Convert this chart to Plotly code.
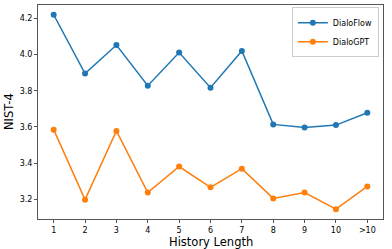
import plotly.graph_objects as go

categories = ["1", "2", "3", "4", "5", "6", "7", "8", "9", "10", ">10"]
dialoflow = [4.22, 3.895, 4.053, 3.828, 4.011, 3.817, 4.02, 3.614, 3.597, 3.61, 3.678]
dialogpt = [3.585, 3.198, 3.578, 3.237, 3.381, 3.266, 3.369, 3.205, 3.237, 3.145, 3.271]
y_ticks = [3.2, 3.4, 3.6, 3.8, 4.0, 4.2]

FONT = "DejaVu Sans"
fig = go.Figure()
fig.add_trace(go.Scatter(x=categories, y=dialoflow, name="DialoFlow", mode="lines+markers",
                         line=dict(color="#1f77b4", width=1.5), marker=dict(size=6, color="#1f77b4")))
fig.add_trace(go.Scatter(x=categories, y=dialogpt, name="DialoGPT", mode="lines+markers",
                         line=dict(color="#ff7f0e", width=1.5), marker=dict(size=6, color="#ff7f0e")))

fig.update_layout(
    width=392, height=249,
    margin=dict(l=38, r=9, t=5, b=30, autoexpand=False),
    paper_bgcolor="white", plot_bgcolor="white",
    font=dict(family=FONT, size=8, color="black"),
    showlegend=True,
    legend=dict(x=0.988, y=0.99, xanchor="right", yanchor="top",
                bordercolor="#cccccc", borderwidth=1, bgcolor="rgba(255,255,255,0.8)",
                font=dict(size=8), itemwidth=30, tracegroupgap=0),
    annotations=[
        dict(text="History Length", xref="paper", yref="paper", x=0.5, y=0, yshift=-14,
             xanchor="center", yanchor="top", showarrow=False, font=dict(size=11.5)),
        dict(text="NIST-4", xref="paper", yref="paper", x=0, y=0.5, xshift=-20,
             xanchor="right", yanchor="middle", textangle=-90, showarrow=False, font=dict(size=11.5)),
    ],
)
fig.update_xaxes(
    type="category", range=[-0.5, 10.5], automargin=False,
    showline=True, linecolor="#555555", linewidth=1, mirror=True,
    ticks="outside", ticklen=3, tickcolor="#555555", showgrid=False,
)
fig.update_yaxes(
    range=[3.091, 4.274], tickvals=y_ticks, ticktext=[f"{v:.1f}" for v in y_ticks], automargin=False,
    showline=True, linecolor="#555555", linewidth=1, mirror=True,
    ticks="outside", ticklen=3, tickcolor="#555555", showgrid=False, zeroline=False,
)
fig.write_html("out.html", config={"displayModeBar": False},
               post_script="document.body.style.margin='0';")
